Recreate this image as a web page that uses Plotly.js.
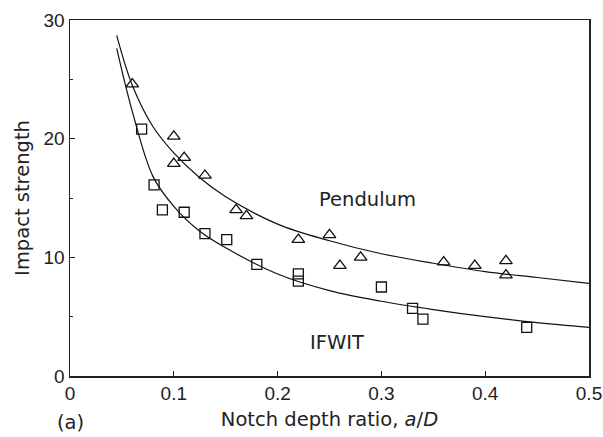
<!DOCTYPE html>
<html>
<head>
<meta charset="utf-8">
<script src="https://cdn.plot.ly/plotly-3.0.1.min.js"></script>
<style>html,body{margin:0;padding:0;background:#fff;}#chart{width:603px;height:437px;}</style>
</head>
<body>
<div id="chart"></div>
<script>
// Pendulum data (triangles)
var pendX = [0.06, 0.10, 0.10, 0.11, 0.13, 0.16, 0.17, 0.22, 0.25, 0.26, 0.28, 0.36, 0.39, 0.42, 0.42];
var pendY = [24.6, 20.2, 17.9, 18.4, 16.9, 14.0, 13.5, 11.5, 11.9, 9.3, 10.0, 9.6, 9.3, 9.7, 8.5];
// IFWIT data (squares)
var ifwX = [0.069, 0.081, 0.089, 0.11, 0.13, 0.151, 0.18, 0.22, 0.22, 0.30, 0.33, 0.34, 0.44];
var ifwY = [20.8, 16.1, 14.0, 13.8, 12.0, 11.5, 9.4, 8.6, 8.0, 7.5, 5.7, 4.8, 4.1];
// Fitted curves
var curveX = [0.045, 0.06, 0.08, 0.10, 0.125, 0.15, 0.20, 0.25, 0.30, 0.35, 0.40, 0.45, 0.50];
var pendCurveY = [28.7, 24.5, 21.0, 18.8, 16.7, 15.1, 12.8, 11.4, 10.3, 9.5, 8.8, 8.3, 7.8];
var ifwCurveY = [27.6, 22.3, 16.8, 14.3, 12.2, 10.8, 8.6, 7.2, 6.3, 5.6, 5.0, 4.5, 4.1];
var xTicks = [0, 0.1, 0.2, 0.3, 0.4, 0.5];
var xTickText = ['0', '0.1', '0.2', '0.3', '0.4', '0.5'];
var yTicks = [0, 10, 20, 30];

var font = {family: 'DejaVu Sans', size: 19.5, color: '#222'};
var tickFont = {family: 'Liberation Sans', size: 19, color: '#222'};

var traces = [
  {x: curveX, y: pendCurveY, mode: 'lines', line: {color: '#111', width: 1.2, shape: 'spline'}, hoverinfo: 'skip'},
  {x: curveX, y: ifwCurveY, mode: 'lines', line: {color: '#111', width: 1.2, shape: 'spline'}, hoverinfo: 'skip'},
  {x: pendX, y: pendY, mode: 'markers', marker: {symbol: 'triangle-up-open', size: 11, color: '#111', line: {width: 1.3, color: '#111'}}},
  {x: ifwX, y: ifwY, mode: 'markers', marker: {symbol: 'square-open', size: 10, color: '#111', line: {width: 1.3, color: '#111'}}}
];

var layout = {
  width: 603, height: 437,
  margin: {l: 70, r: 14, t: 20, b: 61},
  paper_bgcolor: '#fff', plot_bgcolor: '#fff',
  showlegend: false,
  font: font,
  xaxis: {
    range: [0, 0.5], tickvals: xTicks, ticktext: xTickText,
    showgrid: false, zeroline: false, showline: true, mirror: true,
    linecolor: '#222', linewidth: 1.5, ticks: 'inside', ticklen: 5, tickcolor: '#222',
    tickfont: tickFont, ticklabeloverflow: 'allow', automargin: false,
    title: {text: 'Notch depth ratio, <i>a</i>/<i>D</i>', font: font, standoff: 9}
  },
  yaxis: {
    range: [0, 30], tickvals: yTicks,
    showgrid: false, zeroline: false, showline: true, mirror: true,
    linecolor: '#222', linewidth: 1.5, ticks: 'inside', ticklen: 5, tickcolor: '#222',
    tickfont: tickFont, ticklabeloverflow: 'allow', automargin: false,
    minor: {dtick: 5, ticks: 'inside', ticklen: 3, tickcolor: '#222'},
    title: {text: 'Impact strength', font: font, standoff: 8}
  },
  annotations: [
    {x: 0.287, y: 14.9, xref: 'x', yref: 'y', text: 'Pendulum', showarrow: false, font: font},
    {x: 0.257, y: 2.8, xref: 'x', yref: 'y', text: 'IFWIT', showarrow: false, font: font},
    {x: 0.0, y: -0.13, xref: 'paper', yref: 'paper', xanchor: 'center', yanchor: 'middle', text: '(a)', showarrow: false, font: font}
  ]
};

Plotly.newPlot('chart', traces, layout, {displayModeBar: false, staticPlot: true});
</script>
</body>
</html>
